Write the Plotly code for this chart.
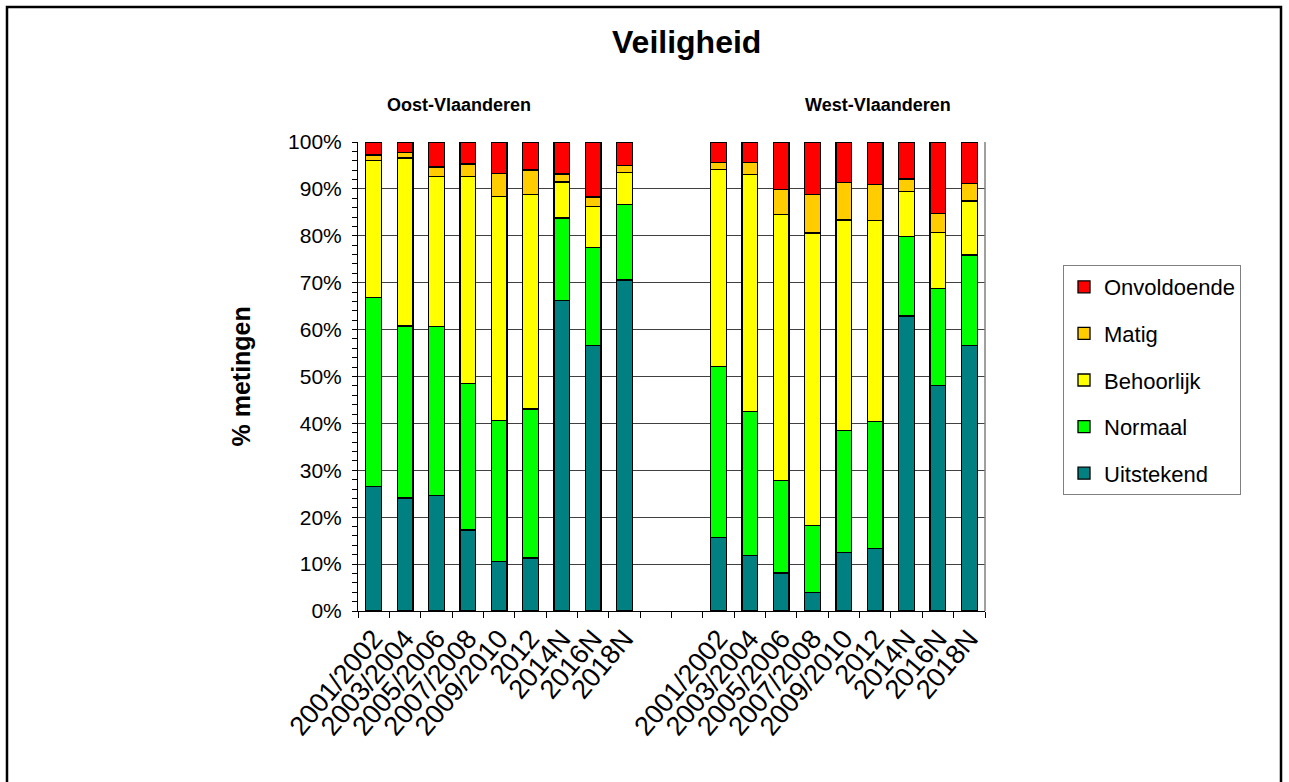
import plotly.graph_objects as go

categories = ["2001/2002", "2003/2004", "2005/2006", "2007/2008", "2009/2010",
              "2012", "2014N", "2016N", "2018N"]
regions = ["Oost-Vlaanderen", "West-Vlaanderen"]

series_names = ["Uitstekend", "Normaal", "Behoorlijk", "Matig", "Onvoldoende"]
series_colors = ["#008080", "#00FF00", "#FFFF00", "#FFCC00", "#FF0000"]

# Oost-Vlaanderen (%)
oost_uitstekend = [26.5, 24.1, 24.7, 17.3, 10.6, 11.3, 66.2, 56.6, 70.6]
oost_normaal = [40.3, 36.7, 35.9, 31.2, 30.0, 31.8, 17.6, 20.9, 16.1]
oost_behoorlijk = [29.2, 35.8, 32.0, 44.1, 47.8, 45.7, 7.7, 8.8, 6.8]
oost_matig = [1.2, 1.1, 2.1, 2.7, 4.9, 5.2, 1.7, 2.0, 1.5]
oost_onvoldoende = [2.8, 2.3, 5.3, 4.7, 6.7, 6.0, 6.8, 11.7, 5.0]

# West-Vlaanderen (%)
west_uitstekend = [15.6, 11.9, 8.1, 4.0, 12.4, 13.4, 62.9, 48.1, 56.6]
west_normaal = [36.6, 30.7, 19.8, 14.2, 26.1, 27.0, 16.9, 20.6, 19.3]
west_behoorlijk = [41.9, 50.4, 56.7, 62.4, 44.9, 42.8, 9.7, 12.0, 11.5]
west_matig = [1.6, 2.7, 5.3, 8.2, 8.0, 7.8, 2.6, 4.0, 3.8]
west_onvoldoende = [4.3, 4.3, 10.1, 11.2, 8.6, 9.0, 7.9, 15.3, 8.8]

oost = [oost_uitstekend, oost_normaal, oost_behoorlijk, oost_matig, oost_onvoldoende]
west = [west_uitstekend, west_normaal, west_behoorlijk, west_matig, west_onvoldoende]

y_ticks = [0, 10, 20, 30, 40, 50, 60, 70, 80, 90, 100]

# positions: 9 Oost slots, 2 empty slots, 9 West slots
gap = 2
n = len(categories)
x_oost = list(range(n))
x_west = [n + gap + i for i in range(n)]
x_all = x_oost + x_west
labels_all = categories + categories

fig = go.Figure()
for i, name in enumerate(series_names):
    fig.add_trace(go.Bar(
        x=x_all,
        y=oost[i] + west[i],
        name=name,
        legendgroup=name,
        legendrank=len(series_names) - i,
        marker=dict(color=series_colors[i], line=dict(color="#000000", width=1.3)),
        width=0.5,
    ))

W, H = 1289, 782
L, R, T, B = 358, 985, 142, 611
pw, ph = R - L, B - T

def px(xp):
    return (xp - L) / pw

def py(yp):
    return (B - yp) / ph

font_family = "Liberation Sans, Arial, sans-serif"

fig.update_layout(
    width=W, height=H,
    barmode="stack",
    bargap=0.5,
    paper_bgcolor="white",
    plot_bgcolor="white",
    margin=dict(l=L, r=W - R, t=T, b=H - B, autoexpand=False),
    font=dict(family=font_family, color="#000000"),
    showlegend=True,
    legend=dict(
        x=px(1063), y=py(265), xanchor="left", yanchor="top",
        traceorder="grouped",
        tracegroupgap=15,
        font=dict(size=22, family=font_family, color="#000000"),
        bordercolor="#808080", borderwidth=1, bgcolor="white",
        itemwidth=30,
    ),
    xaxis=dict(
        range=[-0.5, len(x_all) + gap - 0.5],
        tickmode="array",
        tickvals=x_all,
        ticktext=labels_all,
        tickangle=-50,
        ticks="",
        tickfont=dict(size=27, family=font_family, color="#000000"),
        showgrid=False,
        showline=True, linecolor="#000000", linewidth=1,
        zeroline=False,
        minor=dict(tickmode="linear", tick0=-0.5, dtick=1, ticks="outside",
                   ticklen=6, tickcolor="#000000", tickwidth=1, showgrid=False),
    ),
    yaxis=dict(
        range=[0, 100],
        tickmode="array",
        tickvals=y_ticks,
        ticktext=[f"{v}%" for v in y_ticks],
        ticks="outside", ticklen=5, tickcolor="#000000", tickwidth=1,
        ticklabelstandoff=6,
        tickfont=dict(size=21, family=font_family, color="#000000"),
        showgrid=True, gridcolor="#404040", gridwidth=1,
        showline=True, linecolor="#000000", linewidth=1,
        zeroline=False,
        minor=dict(tickmode="linear", tick0=0, dtick=2, ticks="outside",
                   ticklen=5, tickcolor="#000000", tickwidth=1, showgrid=False),
    ),
    annotations=[
        dict(text="<b>Veiligheid</b>", x=px(686), y=py(42), xref="paper", yref="paper",
             xanchor="center", yanchor="middle", showarrow=False,
             font=dict(size=32, family=font_family, color="#000000")),
        dict(text="<b>" + regions[0] + "</b>", x=px(459), y=py(105), xref="paper", yref="paper",
             xanchor="center", yanchor="middle", showarrow=False,
             font=dict(size=18, family=font_family, color="#000000")),
        dict(text="<b>" + regions[1] + "</b>", x=px(878), y=py(105), xref="paper", yref="paper",
             xanchor="center", yanchor="middle", showarrow=False,
             font=dict(size=18, family=font_family, color="#000000")),
        dict(text="<b>% metingen</b>", x=px(240), y=0.5, xref="paper", yref="paper",
             xanchor="center", yanchor="middle", showarrow=False, textangle=-90,
             font=dict(size=25, family=font_family, color="#000000")),
    ],
    shapes=[
        # outer frame
        dict(type="rect", xref="paper", yref="paper",
             x0=px(7), x1=px(1281), y0=py(H + 20), y1=py(7),
             line=dict(color="#000000", width=2.5), fillcolor="rgba(0,0,0,0)", layer="below"),
        # right border of plot area
        dict(type="line", xref="paper", yref="paper", x0=1, x1=1, y0=0, y1=1,
             line=dict(color="#808080", width=1.5)),
    ],
)

fig.write_html("out.html", config={"displayModeBar": False},
               post_script="document.body.style.margin='0px';document.body.style.overflow='hidden';")
